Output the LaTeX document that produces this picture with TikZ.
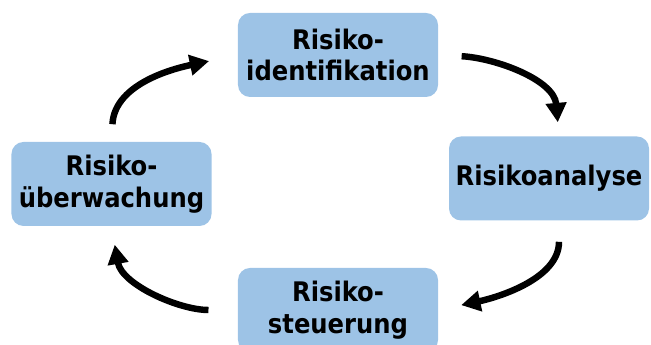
\documentclass[tikz,border=0pt]{standalone}
\usepackage{fontspec}
\setmainfont{DejaVu Sans Condensed}
\usetikzlibrary{arrows.meta}
\definecolor{stepblue}{RGB}{157,195,230}
\begin{document}
\begin{tikzpicture}[x=0.03cm, y=0.03cm,
  phase/.style={fill=stepblue, rounded corners=0.36cm, minimum width=6cm,
    minimum height=2.52cm, align=center, inner sep=0pt,
    font=\fontsize{23}{27}\selectfont\bfseries},
  cycle/.style={line width=5.5pt, -{Triangle[length=0.58cm,width=0.6cm]}}]
% Set the canvas (651 x 345 px)
\clip (0,0) rectangle (651,345);

% Draw the four phases
\node[phase] (ident) at (338, 290) {Risiko-\\identifikation};
\node[phase] (analyse) at (549, 166.5) {Risikoanalyse};
\node[phase] (steuer) at (338, 35) {Risiko-\\steuerung};
\node[phase] (ueberw) at (111.5, 161) {Risiko-\\überwachung};

% Draw the arrows between the phases
\draw[cycle, shorten <=15, shorten >=25] (ueberw.north) to[out=87, in=192] (ident.west);
\draw[cycle, shorten <=20, shorten >=12] (ident.east) to[out=-3, in=95] ([xshift=0.3cm]analyse.north);
\draw[cycle, shorten <=18, shorten >=20] ([xshift=0.3cm]analyse.south) to[out=-90, in=12] (steuer.east);
\draw[cycle, shorten <=25, shorten >=16] (steuer.west) to[out=180, in=-80] (ueberw.south);
\end{tikzpicture}
\end{document}
